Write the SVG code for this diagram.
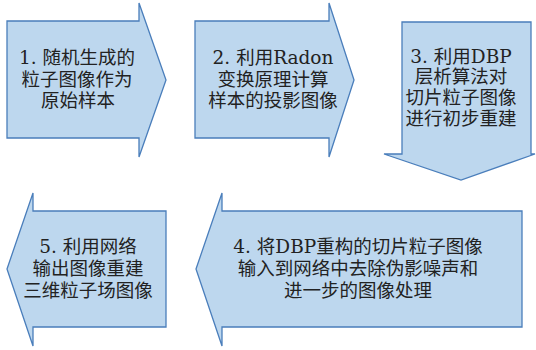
<svg xmlns="http://www.w3.org/2000/svg" width="536" height="350" viewBox="0 0 536 350">
<style>
.a{fill:#bdd7ee;stroke:#4a7ebb;stroke-width:1.3;stroke-linejoin:miter}
.t{font-family:"DejaVu Serif","Noto Sans CJK SC",serif;font-size:18.5px;fill:#222;text-anchor:middle}
</style>
<rect width="536" height="350" fill="#fff"/>
<g id="connectors"></g>
<g id="step1">
<path class="a" d="M7,21 H139 V3 L166,80 L139,157 V138 H7 Z"/>
<text class="t" x="77" y="64">1. 随机生成的</text>
<text class="t" x="77" y="86">粒子图像作为</text>
<text class="t" x="78" y="107">原始样本</text>
</g>
<g id="step2">
<path class="a" d="M195,21 H329 V3 L354,80 L329,157 V138 H195 Z"/>
<text class="t" x="273" y="64">2. 利用Radon</text>
<text class="t" x="273" y="86">变换原理计算</text>
<text class="t" x="273" y="107">样本的投影图像</text>
</g>
<g id="step3">
<path class="a" d="M402,22 H531 V154 H535 L461,180 L384,154 H402 Z"/>
<text class="t" x="461" y="63">3. 利用DBP</text>
<text class="t" x="461" y="83">层析算法对</text>
<text class="t" x="461" y="104">切片粒子图像</text>
<text class="t" x="461" y="125">进行初步重建</text>
</g>
<g id="step4">
<path class="a" d="M522,211 V327 H222 V346 L196,269 L222,193 V211 Z"/>
<text class="t" x="358" y="253">4. 将DBP重构的切片粒子图像</text>
<text class="t" x="358" y="275">输入到网络中去除伪影噪声和</text>
<text class="t" x="358" y="297">进一步的图像处理</text>
</g>
<g id="step5">
<path class="a" d="M166,211 V327 H33 V346 L7,269 L33,193 V211 Z"/>
<text class="t" x="88" y="253">5. 利用网络</text>
<text class="t" x="88" y="275">输出图像重建</text>
<text class="t" x="88" y="297">三维粒子场图像</text>
</g>
</svg>
